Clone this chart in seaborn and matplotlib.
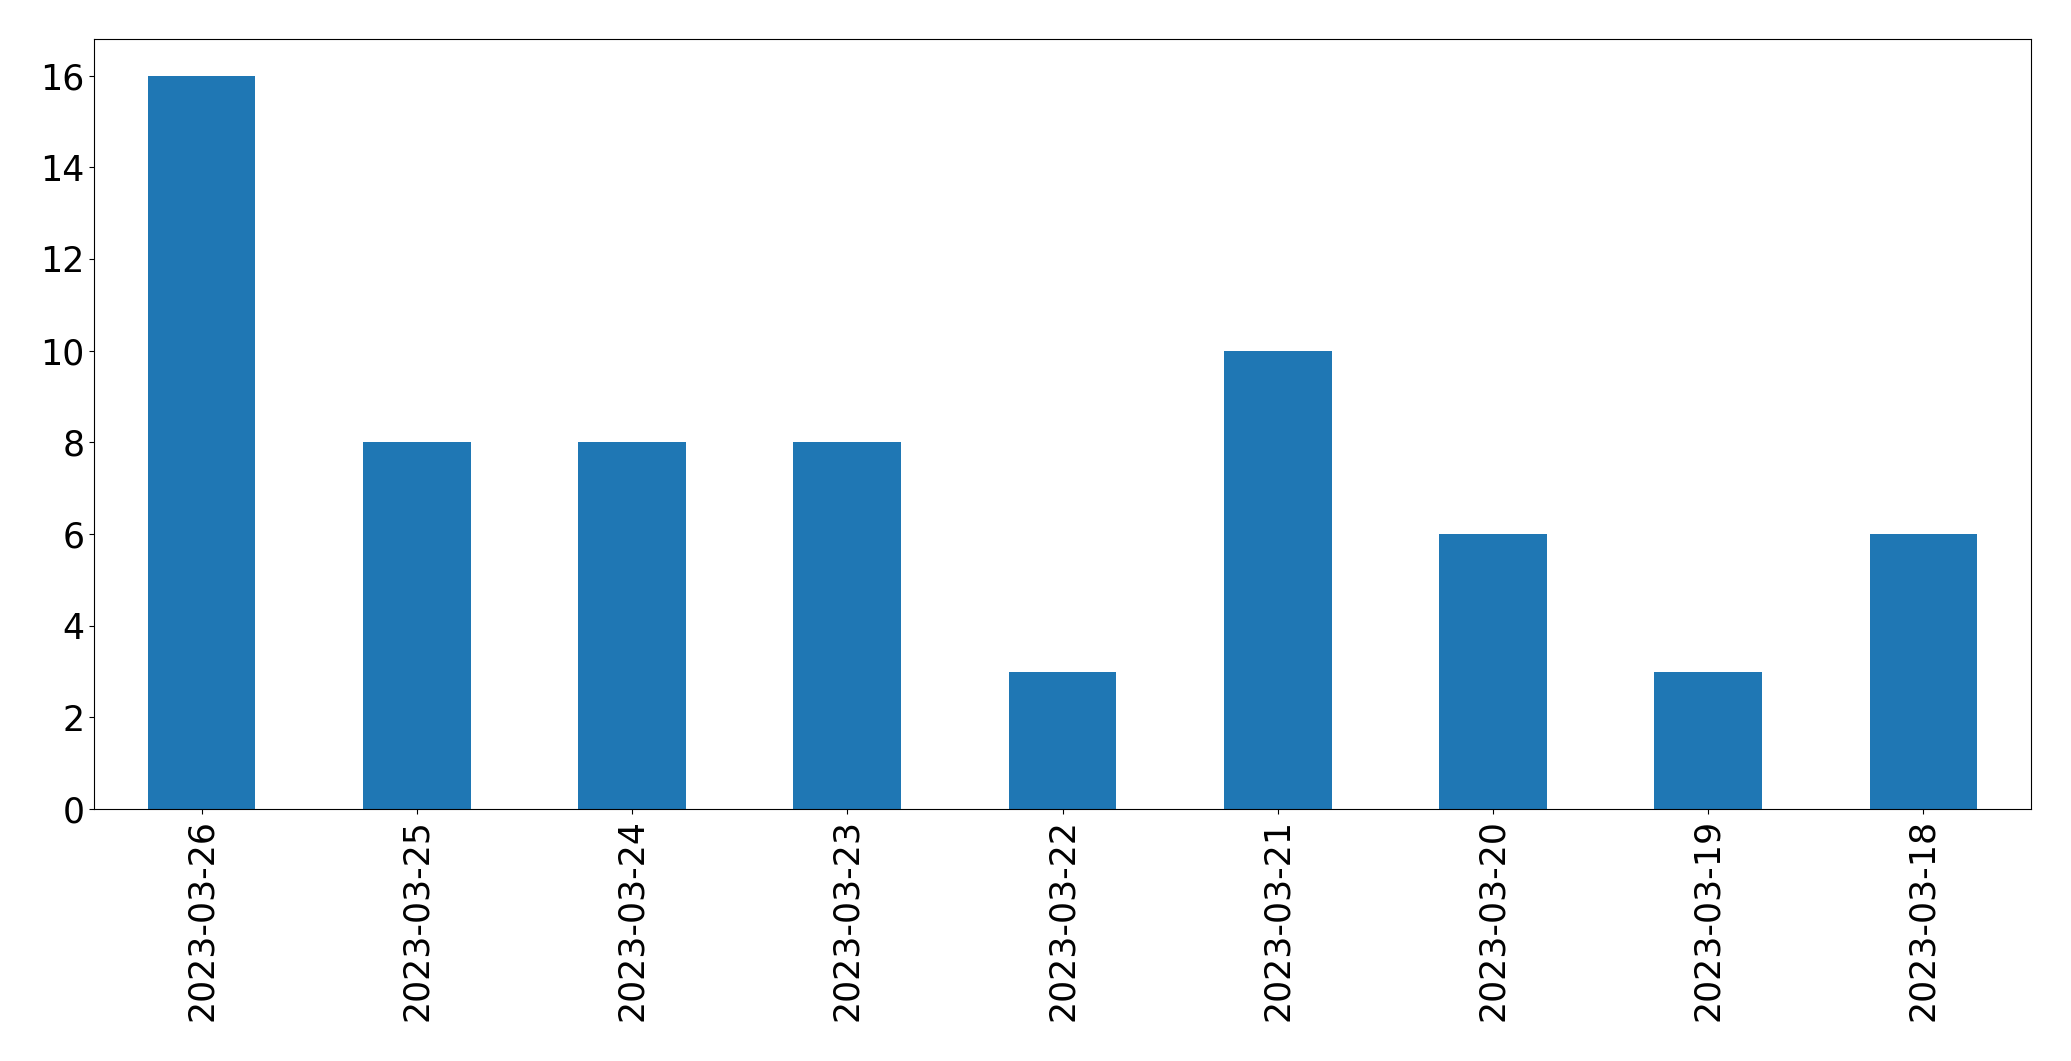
import matplotlib.pyplot as plt
import pandas as pd
import seaborn as sns

# daily counts, newest first (as in the original)
dates = ['2023-03-26', '2023-03-25', '2023-03-24', '2023-03-23', '2023-03-22',
         '2023-03-21', '2023-03-20', '2023-03-19', '2023-03-18']
counts = [16, 8, 8, 8, 3, 10, 6, 3, 6]

df = pd.DataFrame({'date': dates, 'count': counts})

fig = plt.figure(facecolor='white', figsize=[20.71, 10.61], dpi=100)
ax = fig.add_axes([94/2071, 1 - 809/1061, (2031 - 94)/2071, (809 - 39)/1061])
sns.barplot(data=df, x='date', y='count', order=dates, color='#1f77b4',
            saturation=1, width=0.5, ax=ax)
ax.set_xlim(-0.5, len(dates) - 0.5)
ax.set_ylim(0, 16.8)
ax.set_xlabel('')
ax.set_ylabel('')
ax.tick_params(axis='both', labelsize=25)
ax.tick_params(axis='x', labelrotation=90)
plt.savefig('out.png', dpi=100)
